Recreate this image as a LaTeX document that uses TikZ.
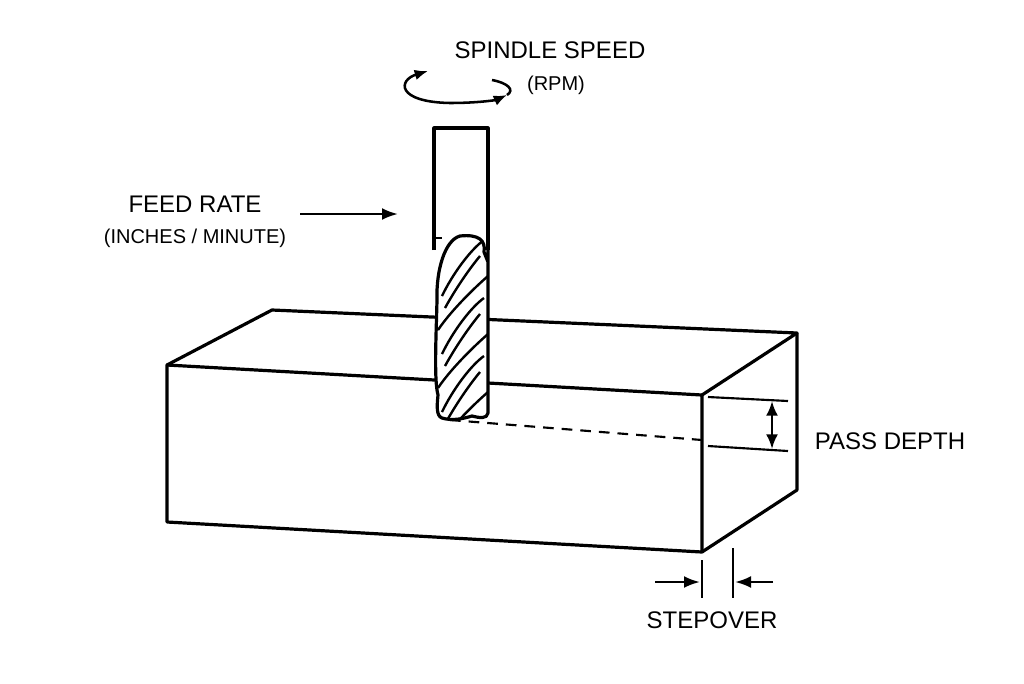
\documentclass[tikz,border=0pt]{standalone}
\usepackage{fontspec}
\setmainfont{Liberation Sans}
\usetikzlibrary{arrows.meta}
\tikzset{
  edge/.style={line width=2.4pt, line join=round},
  thin edge/.style={line width=1.6pt},
  flute/.style={line width=1.8pt},
  dim/.style={line width=1.9pt, -{Latex[length=12pt,width=9pt]}},
  label/.style={font=\fontsize{18}{21}\selectfont},
  small label/.style={font=\fontsize{15}{18}\selectfont}
}
\newcommand\fluteoutline{(488,250) -- (488,413) .. controls (487,419) and (480,418) .. (472,416)
      .. controls (462,419) and (452,421) .. (442,418)
      .. controls (436,416) and (437,405) .. (438,395)
      .. controls (434,380) and (436,340) .. (437,300)
      .. controls (436,270) and (445,240) .. (460,236)
      .. controls (478,234) and (486,240) .. (484,252) -- (488,262)}
\begin{document}
\begin{tikzpicture}[x=0.75pt,y=-0.75pt]
    \useasboundingbox (0,0) rectangle (1024,683);

    % stock block
    \coordinate (ftl) at (167,365);
    \coordinate (ftr) at (702,395);
    \coordinate (fbr) at (702,552);
    \coordinate (fbl) at (167,522);
    \coordinate (btl) at (272,310);
    \coordinate (btr) at (797,333);
    \coordinate (bbr) at (797,490);
    \draw[edge] (ftl) -- (ftr) -- (fbr) -- (fbl) -- cycle;
    \draw[edge] (ftl) -- (btl) -- (btr) -- (ftr);
    \draw[edge] (btr) -- (bbr) -- (fbr);
    \draw[thin edge, dash pattern=on 8pt off 6pt] (450,420) -- (702,440);

    % end mill
    \draw[edge, fill=white] (434,250) -- (434,128) -- (488,128) -- (488,250);
    \draw[thin edge] (436,238) -- (442,238);
    \fill[white] \fluteoutline;
    \begin{scope}
      \clip \fluteoutline;
      \foreach \dy in {0,58,116} {
        \draw[flute] (442,296+\dy) .. controls (452,275+\dy) and (470,250+\dy) .. (484,240+\dy);
        \draw[flute] (445,308+\dy) .. controls (456,288+\dy) and (470,268+\dy) .. (480,256+\dy);
        \draw[flute] (438,330+\dy) .. controls (450,312+\dy) and (472,290+\dy) .. (488,276+\dy);
      }
    \end{scope}
    \draw[edge] \fluteoutline;

    % spindle speed
    \node[label] (spindle) at (550,50) {SPINDLE SPEED};
    \node[small label] (rpm) at (556,85) {(RPM)};
    \draw[line width=1.9pt, {Latex[length=10pt,width=8pt]}-{Latex[length=10pt,width=8pt]}]
      (428,71) .. controls (398,80) and (396,102) .. (450,103)
      .. controls (478,103) and (496,100) .. (507,95);
    \draw[line width=1.9pt] (492,80) .. controls (508,83) and (515,90) .. (507,95);

    % feed rate
    \node[label] (feed) at (195,204) {FEED RATE};
    \node[small label] (inches) at (195,238) {(INCHES / MINUTE)};
    \coordinate (feedA) at (300,214);
    \coordinate (feedB) at (398,214);
    \draw[dim] (feedA) -- (feedB);

    % pass depth
    \draw[thin edge] (708,397) -- (788,401);
    \draw[thin edge] (708,446) -- (788,451);
    \coordinate (pdA) at (772,401);
    \coordinate (pdB) at (772,449);
    \draw[line width=1.9pt, {Latex[length=11pt,width=9pt]}-{Latex[length=11pt,width=9pt]}] (pdA) -- (pdB);
    \node[label] (depth) at (890,441) {PASS DEPTH};

    % stepover
    \draw[thin edge] (702,560) -- (702,598);
    \draw[thin edge] (733,548) -- (733,598);
    \coordinate (soL) at (655,582);
    \coordinate (soR) at (773,582);
    \draw[dim] (soL) -- (700,582);
    \draw[dim] (soR) -- (735,582);
    \node[label] (stepover) at (712,620) {STEPOVER};
\end{tikzpicture}
\end{document}
